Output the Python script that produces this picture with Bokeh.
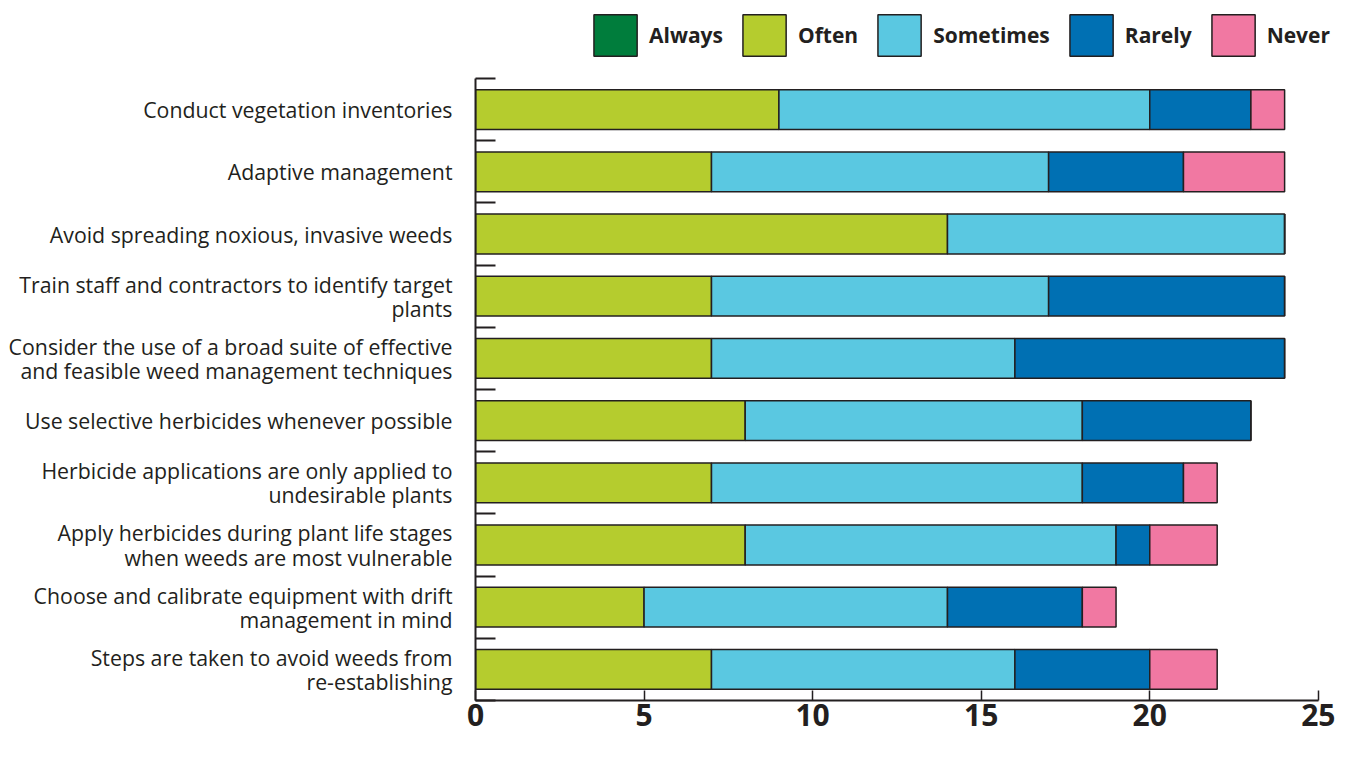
from bokeh.plotting import figure
from bokeh.models import Range1d, FixedTicker, Legend, LegendItem, ColumnDataSource
from bokeh.embed import file_html
from bokeh.resources import INLINE

categories = [
    "Conduct vegetation inventories",
    "Adaptive management",
    "Avoid spreading noxious, invasive weeds",
    "Train staff and contractors to identify target\nplants",
    "Consider the use of a broad suite of effective\nand feasible weed management techniques",
    "Use selective herbicides whenever possible",
    "Herbicide applications are only applied to\nundesirable plants",
    "Apply herbicides during plant life stages\nwhen weeds are most vulnerable",
    "Choose and calibrate equipment with drift\nmanagement in mind",
    "Steps are taken to avoid weeds from\nre-establishing",
]
always = [0, 0, 0, 0, 0, 0, 0, 0, 0, 0]
often = [9, 7, 14, 7, 7, 8, 7, 8, 5, 7]
sometimes = [11, 10, 10, 10, 9, 10, 11, 11, 9, 9]
rarely = [3, 4, 0, 7, 8, 5, 3, 1, 4, 4]
never = [1, 3, 0, 0, 0, 0, 1, 2, 1, 2]
series_names = ["Always", "Often", "Sometimes", "Rarely", "Never"]
colors = ["#007d3c", "#b5cc2e", "#5ac8e1", "#0070b3", "#f178a2"]
x_ticks = [0, 5, 10, 15, 20, 25]
x_max = 25

FONT = "Open Sans"
NUM_FONT = "'Liberation Sans Narrow', 'Arial Narrow', 'Open Sans'"
DARK = "#231f20"

n = len(categories)
ypos = [n - i - 0.5 for i in range(n)]
source = ColumnDataSource(dict(y=ypos, Always=always, Often=often,
                               Sometimes=sometimes, Rarely=rarely, Never=never))

# extra room above the bars (for the legend) and right of 25 (legend overhang)
p = figure(width=1335, height=743,
           x_range=Range1d(0, x_max * 1.018), y_range=Range1d(0, n * 1.1158),
           output_backend="svg", toolbar_location=None,
           min_border_left=475, min_border_right=2, min_border_top=6, min_border_bottom=43)

renderers = p.hbar_stack(series_names, y="y", height=0.64, fill_color=colors,
                         line_color=DARK, line_width=1.5, source=source)

p.xgrid.visible = False
p.ygrid.visible = False
p.outline_line_color = None

# y axis: labels at band centres, short inward ticks at band boundaries
ya = p.yaxis[0]
ya.bounds = (0, n)
ya.ticker = FixedTicker(ticks=ypos, minor_ticks=list(range(n + 1)))
ya.major_label_overrides = {y: c for y, c in zip(ypos, categories)}
ya.major_tick_in = 0
ya.major_tick_out = 0
ya.minor_tick_in = 20
ya.minor_tick_out = 0
ya.minor_tick_line_width = 2
ya.minor_tick_line_color = DARK
ya.axis_line_width = 2
ya.axis_line_color = DARK
ya.major_label_standoff = 23
ya.major_label_text_font = FONT
ya.major_label_text_font_size = "21.3px"
ya.major_label_text_color = DARK
ya.major_label_text_line_height = 0.84

xa = p.xaxis[0]
xa.bounds = (0, x_max)
xa.ticker = FixedTicker(ticks=x_ticks, minor_ticks=[])
xa.major_tick_in = 10
xa.major_tick_out = 0
xa.major_tick_line_color = DARK
xa.major_tick_line_width = 1.5
xa.axis_line_width = 2
xa.axis_line_color = DARK
xa.major_label_standoff = 3
xa.major_label_text_font = NUM_FONT
xa.major_label_text_font_size = "30px"
xa.major_label_text_font_style = "bold"
xa.major_label_text_color = DARK

items = [LegendItem(label=name, renderers=[r]) for name, r in zip(series_names, renderers)]
legend = Legend(items=items, orientation="horizontal", location="top_right",
                glyph_width=54, glyph_height=52, label_standoff=7, spacing=14,
                padding=0, margin=3, border_line_color=None, background_fill_alpha=0,
                label_text_font=FONT, label_text_font_size="21px",
                label_text_font_style="bold", label_text_color=DARK)
p.add_layout(legend, "center")

open("out.html", "w").write(file_html(p, INLINE))
